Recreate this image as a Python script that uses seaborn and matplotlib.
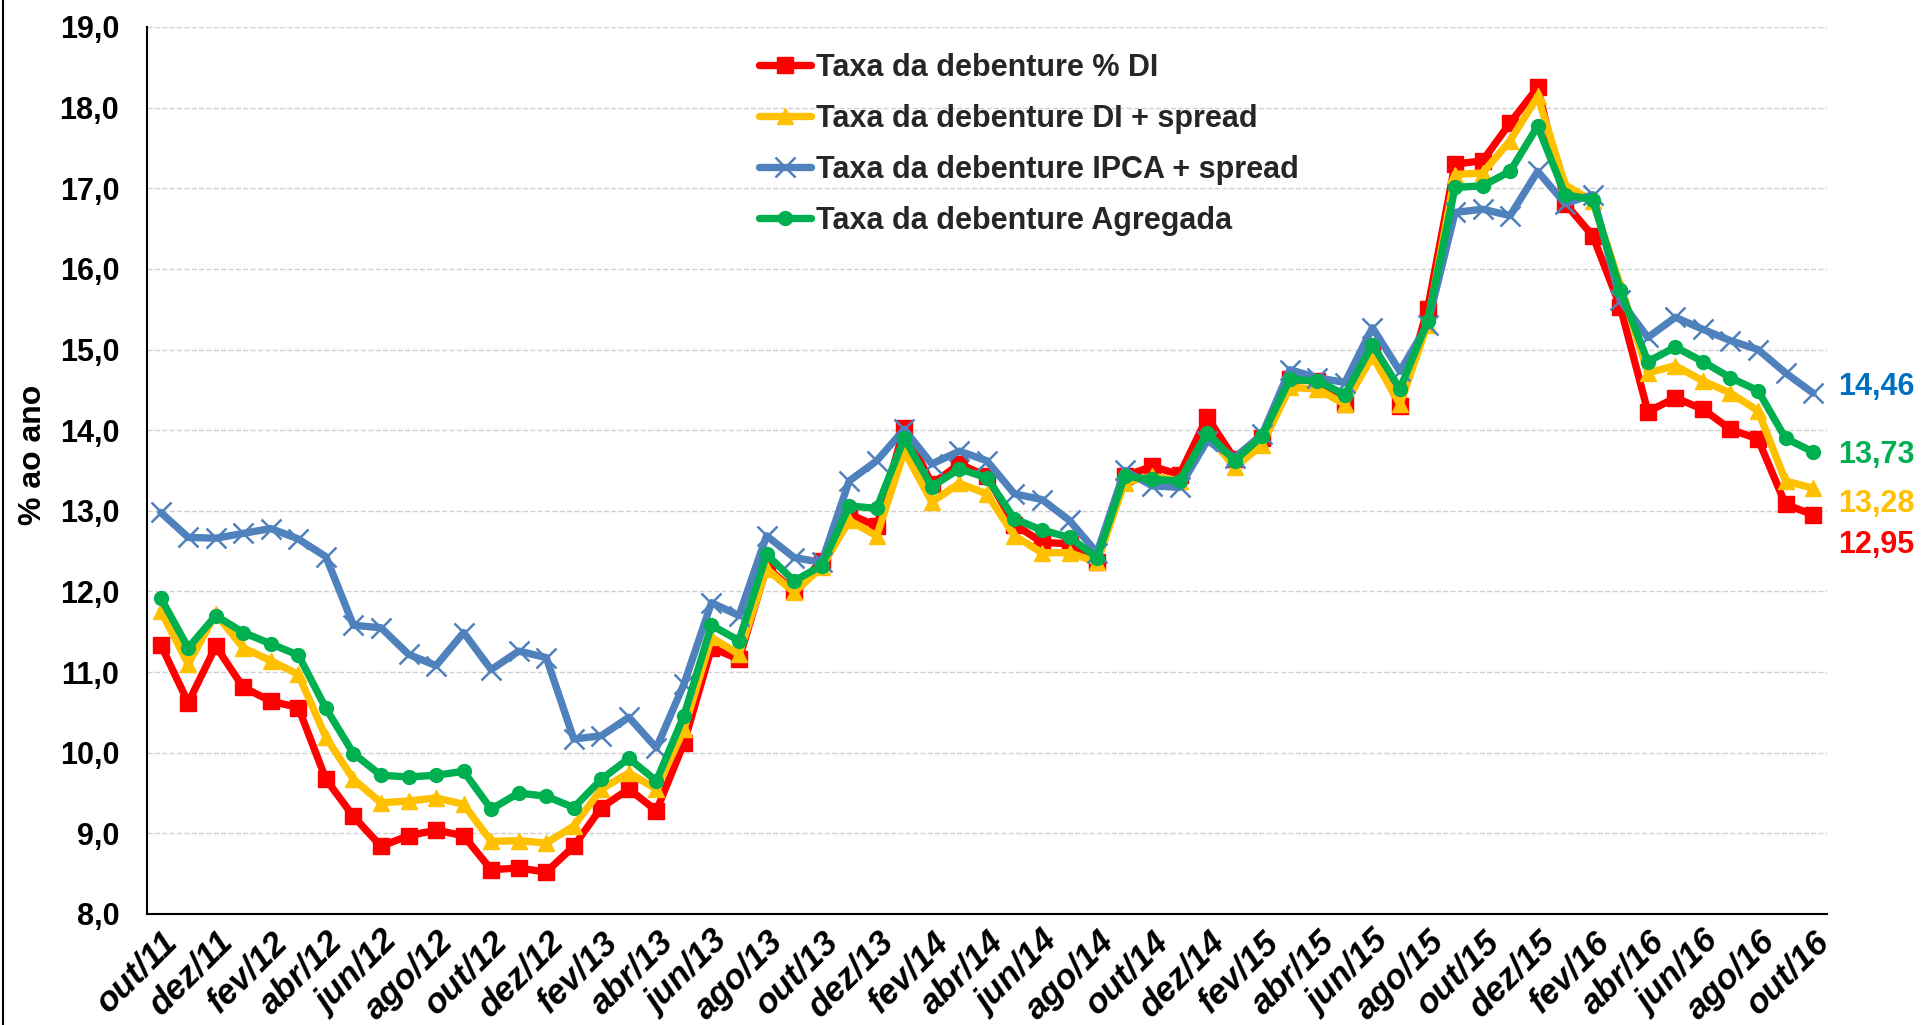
import matplotlib
matplotlib.use("Agg")
import matplotlib.pyplot as plt
from matplotlib.lines import Line2D
import numpy as np
import pandas as pd
import seaborn as sns

# -----------------------------
# Data
# -----------------------------
months = [
    "out/11", "nov/11", "dez/11", "jan/12", "fev/12", "mar/12", "abr/12", "mai/12",
    "jun/12", "jul/12", "ago/12", "set/12", "out/12", "nov/12", "dez/12", "jan/13",
    "fev/13", "mar/13", "abr/13", "mai/13", "jun/13", "jul/13", "ago/13", "set/13",
    "out/13", "nov/13", "dez/13", "jan/14", "fev/14", "mar/14", "abr/14", "mai/14",
    "jun/14", "jul/14", "ago/14", "set/14", "out/14", "nov/14", "dez/14", "jan/15",
    "fev/15", "mar/15", "abr/15", "mai/15", "jun/15", "jul/15", "ago/15", "set/15",
    "out/15", "nov/15", "dez/15", "jan/16", "fev/16", "mar/16", "abr/16", "mai/16",
    "jun/16", "jul/16", "ago/16", "set/16", "out/16",
]

taxa_di = [
    11.34, 10.62, 11.32, 10.81, 10.64, 10.56, 9.67, 9.21, 8.84, 8.97, 9.04, 8.97,
    8.55, 8.57, 8.52, 8.84, 9.32, 9.55, 9.28, 10.12, 11.30, 11.16, 12.30, 12.01,
    12.38, 12.96, 12.81, 14.03, 13.33, 13.58, 13.43, 12.83, 12.61, 12.59, 12.36, 13.43,
    13.55, 13.45, 14.16, 13.64, 13.90, 14.63, 14.61, 14.32, 14.98, 14.30, 15.50, 17.30,
    17.34, 17.81, 18.25, 16.81, 16.41, 15.53, 14.23, 14.40, 14.26, 14.01, 13.89, 13.08,
    12.95,
]

taxa_di_spread = [
    11.76, 11.10, 11.72, 11.30, 11.14, 10.97, 10.19, 9.67, 9.38, 9.40, 9.44, 9.36,
    8.90, 8.91, 8.88, 9.09, 9.55, 9.75, 9.55, 10.29, 11.43, 11.22, 12.28, 11.99,
    12.30, 12.88, 12.69, 13.74, 13.11, 13.34, 13.21, 12.69, 12.48, 12.48, 12.36, 13.35,
    13.43, 13.37, 13.95, 13.54, 13.82, 14.53, 14.51, 14.32, 14.92, 14.32, 15.31, 17.17,
    17.19, 17.59, 18.14, 17.04, 16.84, 15.80, 14.71, 14.80, 14.61, 14.46, 14.24, 13.37,
    13.28,
]

taxa_ipca_spread = [
    12.98, 12.67, 12.66, 12.72, 12.78, 12.65, 12.43, 11.58, 11.55, 11.22, 11.08, 11.49,
    11.03, 11.26, 11.18, 10.17, 10.21, 10.44, 10.06, 10.85, 11.86, 11.70, 12.69, 12.42,
    12.36, 13.37, 13.62, 14.01, 13.58, 13.74, 13.62, 13.21, 13.14, 12.88, 12.48, 13.50,
    13.31, 13.29, 13.87, 13.66, 13.95, 14.75, 14.65, 14.59, 15.27, 14.73, 15.31, 16.70,
    16.74, 16.66, 17.21, 16.81, 16.92, 15.61, 15.15, 15.40, 15.25, 15.11, 15.00, 14.71,
    14.46,
]

taxa_agregada = [
    11.92, 11.30, 11.70, 11.49, 11.35, 11.21, 10.55, 9.99, 9.72, 9.70, 9.72, 9.77,
    9.30, 9.50, 9.46, 9.32, 9.67, 9.93, 9.65, 10.46, 11.58, 11.39, 12.46, 12.13,
    12.32, 13.06, 13.03, 13.90, 13.30, 13.52, 13.41, 12.90, 12.76, 12.67, 12.42, 13.43,
    13.39, 13.37, 13.97, 13.62, 13.93, 14.63, 14.61, 14.44, 15.06, 14.51, 15.35, 17.01,
    17.03, 17.21, 17.77, 16.92, 16.86, 15.74, 14.85, 15.03, 14.85, 14.65, 14.49, 13.90,
    13.73,
]

end_labels = ["12,95", "13,28", "14,46", "13,73"]

y_ticks = [8, 9, 10, 11, 12, 13, 14, 15, 16, 17, 18, 19]
y_tick_labels = ["8,0", "9,0", "10,0", "11,0", "12,0", "13,0", "14,0",
                 "15,0", "16,0", "17,0", "18,0", "19,0"]

# -----------------------------
# Style
# -----------------------------
sns.set_theme(style="white")
plt.rcParams["font.family"] = ["Liberation Sans", "DejaVu Sans"]

series = [
    ("Taxa da debenture % DI", taxa_di, "#FF0000", "s", 11, 0, -30),
    ("Taxa da debenture DI + spread", taxa_di_spread, "#FFC000", "^", 12, 0, -16),
    ("Taxa da debenture IPCA + spread", taxa_ipca_spread, "#4F81BD", "x", 15, 1.8, 6),
    ("Taxa da debenture Agregada", taxa_agregada, "#00B050", "o", 10, 0, -3),
]
label_colors = ["#FF0000", "#FFC000", "#0070C0", "#00B050"]

x = np.arange(len(months))

fig = plt.figure(figsize=(19.23, 10.25), dpi=100)
ax = fig.add_axes([0.0764, 0.1083, 0.8736, 0.8654])

for i, (name, vals, color, marker, ms, mew, dy) in enumerate(series):
    df = pd.DataFrame({"x": x, "y": vals})
    sns.lineplot(
        data=df, x="x", y="y", ax=ax,
        color=color, linewidth=5.3,
        marker=marker, markersize=ms,
        markeredgecolor=color,
        markeredgewidth=mew if mew else 1,
        label=name, zorder=3 + i,
    )
    ax.annotate(
        end_labels[i],
        xy=(x[-1], vals[-1]),
        xytext=(25, dy), textcoords="offset pixels",
        ha="left", va="center",
        fontsize=22, fontweight="bold", color=label_colors[i],
        annotation_clip=False,
    )

# -----------------------------
# Axes
# -----------------------------
ax.set_xlim(-0.5, len(months) - 0.5)
ax.set_ylim(8, 19)

ax.set_yticks(y_ticks)
ax.set_yticklabels(y_tick_labels, fontsize=22, fontweight="bold")

ax.set_xticks(x[::2])
ax.set_xticklabels(months[::2], rotation=45, ha="right",
                   rotation_mode="anchor", fontsize=25,
                   fontweight="bold", fontstyle="italic")

ax.tick_params(axis="y", length=0, pad=20, colors="black")
ax.tick_params(axis="x", length=0, pad=8, colors="black")

ax.set_xlabel("")
ax.set_ylabel("% ao ano", fontsize=23, fontweight="bold", color="black")
ax.yaxis.set_label_coords(-0.059, 0.518)

ax.yaxis.grid(True, color="#D0D0D0", linestyle="--", linewidth=1)
ax.xaxis.grid(False)

for side in ["top", "right"]:
    ax.spines[side].set_visible(False)
for side in ["left", "bottom"]:
    ax.spines[side].set_color("black")
    ax.spines[side].set_linewidth(1.5)

ax.legend(
    loc="upper left", bbox_to_anchor=(0.348, 1.002),
    frameon=False, prop={"weight": "bold", "size": 22},
    handlelength=1.7, handletextpad=0.15, labelspacing=0.69,
)

# border line on the left edge of the chart area
fig.add_artist(Line2D([0.0018, 0.0018], [0, 1], color="black", linewidth=1.5,
                      transform=fig.transFigure))

fig.savefig("out.png", dpi=100)
